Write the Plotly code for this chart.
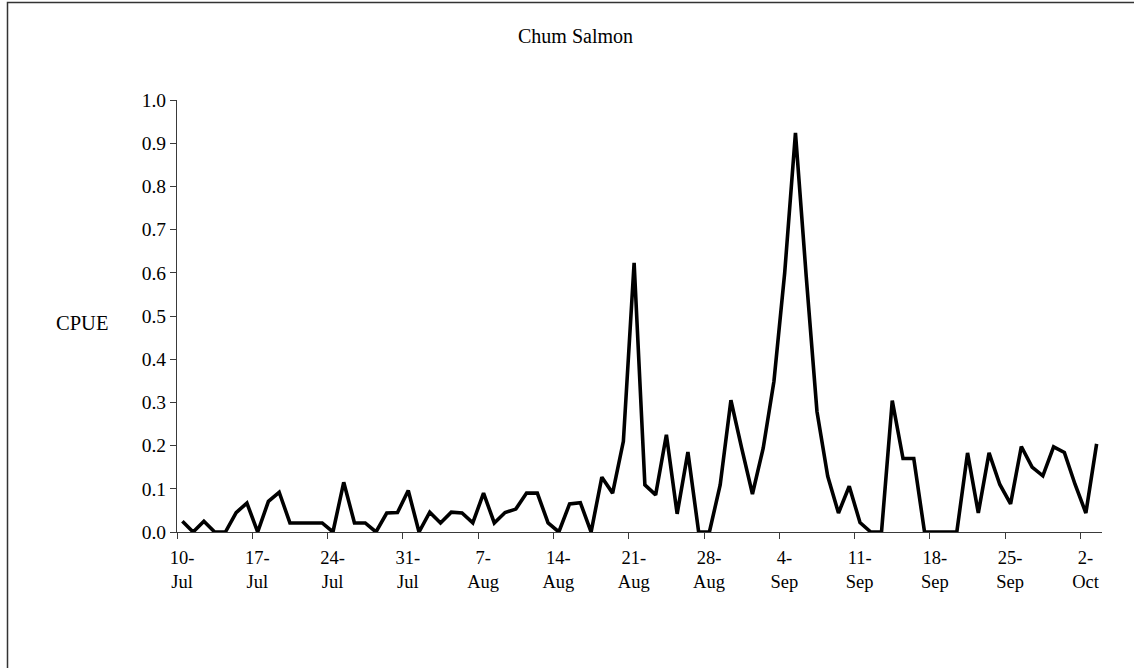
import plotly.graph_objects as go

# Daily catch per unit effort for chum salmon, 10-Jul through 3-Oct
dates = [
    "10-Jul", "11-Jul", "12-Jul", "13-Jul", "14-Jul", "15-Jul", "16-Jul",
    "17-Jul", "18-Jul", "19-Jul", "20-Jul", "21-Jul", "22-Jul", "23-Jul",
    "24-Jul", "25-Jul", "26-Jul", "27-Jul", "28-Jul", "29-Jul", "30-Jul",
    "31-Jul", "1-Aug", "2-Aug", "3-Aug", "4-Aug", "5-Aug", "6-Aug",
    "7-Aug", "8-Aug", "9-Aug", "10-Aug", "11-Aug", "12-Aug", "13-Aug",
    "14-Aug", "15-Aug", "16-Aug", "17-Aug", "18-Aug", "19-Aug", "20-Aug",
    "21-Aug", "22-Aug", "23-Aug", "24-Aug", "25-Aug", "26-Aug", "27-Aug",
    "28-Aug", "29-Aug", "30-Aug", "31-Aug", "1-Sep", "2-Sep", "3-Sep",
    "4-Sep", "5-Sep", "6-Sep", "7-Sep", "8-Sep", "9-Sep", "10-Sep",
    "11-Sep", "12-Sep", "13-Sep", "14-Sep", "15-Sep", "16-Sep", "17-Sep",
    "18-Sep", "19-Sep", "20-Sep", "21-Sep", "22-Sep", "23-Sep", "24-Sep",
    "25-Sep", "26-Sep", "27-Sep", "28-Sep", "29-Sep", "30-Sep", "1-Oct",
    "2-Oct", "3-Oct",
]

cpue = [
    0.025, 0.0, 0.025, 0.0, 0.0, 0.045, 0.067,
    0.0, 0.071, 0.092, 0.021, 0.021, 0.021, 0.021,
    0.0, 0.115, 0.021, 0.021, 0.0, 0.044, 0.045,
    0.096, 0.0, 0.046, 0.021, 0.046, 0.044, 0.021,
    0.090, 0.021, 0.045, 0.053, 0.090, 0.090, 0.021,
    0.0, 0.065, 0.068, 0.0, 0.127, 0.090, 0.210,
    0.623, 0.109, 0.086, 0.225, 0.042, 0.185, 0.0,
    0.0, 0.109, 0.305, 0.194, 0.088, 0.194, 0.349,
    0.600, 0.924, 0.592, 0.279, 0.129, 0.044, 0.106,
    0.022, 0.0, 0.0, 0.304, 0.170, 0.170, 0.0,
    0.0, 0.0, 0.0, 0.183, 0.044, 0.183, 0.110,
    0.065, 0.198, 0.150, 0.130, 0.197, 0.184, 0.110,
    0.044, 0.204,
]

# Weekly axis labels (every 7th day)
tick_labels = [
    "10-<br>Jul", "17-<br>Jul", "24-<br>Jul", "31-<br>Jul", "7-<br>Aug",
    "14-<br>Aug", "21-<br>Aug", "28-<br>Aug", "4-<br>Sep", "11-<br>Sep",
    "18-<br>Sep", "25-<br>Sep", "2-<br>Oct",
]

y_ticks = [0.0, 0.1, 0.2, 0.3, 0.4, 0.5, 0.6, 0.7, 0.8, 0.9, 1.0]

FONT = "Liberation Serif"
AXIS_COLOR = "#3a3a3a"

W, H = 1134, 668
L, R, T, B = 177, 32, 100, 136
plot_w = W - L - R
plot_h = H - T - B


def px_to_paper_x(px):
    return (px - L) / plot_w


def px_to_paper_y(py):
    return (H - B - py) / plot_h


n = len(cpue)
x_idx = list(range(n))
# Tick marks sit on the boundaries between days, labels on the day itself
tick_pos = [i - 0.5 for i in range(0, n, 7)]

fig = go.Figure()
fig.add_trace(go.Scatter(
    x=x_idx,
    y=cpue,
    mode="lines",
    line=dict(color="black", width=3.6),
    hovertext=dates,
    showlegend=False,
))

fig.update_layout(
    width=W,
    height=H,
    margin=dict(l=L, r=R, t=T, b=B),
    paper_bgcolor="white",
    plot_bgcolor="white",
    font=dict(family=FONT, size=19, color="black"),
    showlegend=False,
    xaxis=dict(
        range=[-0.5, n - 0.5],
        tickmode="array",
        tickvals=tick_pos,
        ticktext=tick_labels,
        ticks="outside",
        ticklen=6,
        tickwidth=1,
        tickcolor=AXIS_COLOR,
        ticklabelshift=5,
        ticklabelstandoff=3,
        showline=True,
        linecolor=AXIS_COLOR,
        linewidth=1,
        showgrid=False,
        zeroline=False,
        tickfont=dict(family=FONT, size=18.5, color="black"),
    ),
    yaxis=dict(
        range=[0, 1.0],
        tickmode="array",
        tickvals=y_ticks,
        ticktext=[f"{v:.1f}" for v in y_ticks],
        ticks="outside",
        ticklen=6,
        tickwidth=1,
        tickcolor=AXIS_COLOR,
        showline=True,
        linecolor=AXIS_COLOR,
        linewidth=1,
        showgrid=False,
        zeroline=False,
        tickfont=dict(family=FONT, size=19.5, color="black"),
    ),
    annotations=[
        dict(
            text="Chum Salmon",
            xref="paper", yref="paper",
            x=px_to_paper_x(575), y=px_to_paper_y(36),
            xanchor="center", yanchor="middle",
            showarrow=False,
            font=dict(family=FONT, size=20, color="black"),
        ),
        dict(
            text="CPUE",
            xref="paper", yref="paper",
            x=px_to_paper_x(82), y=px_to_paper_y(323),
            xanchor="center", yanchor="middle",
            showarrow=False,
            font=dict(family=FONT, size=20.5, color="black"),
        ),
    ],
    shapes=[
        dict(
            type="rect",
            xref="paper", yref="paper",
            x0=px_to_paper_x(7.5), x1=px_to_paper_x(W + 20),
            y0=px_to_paper_y(H + 20), y1=px_to_paper_y(2.5),
            line=dict(color="#333333", width=1.5),
            fillcolor="rgba(0,0,0,0)",
            layer="below",
        ),
    ],
)

fig.write_html("out.html")
